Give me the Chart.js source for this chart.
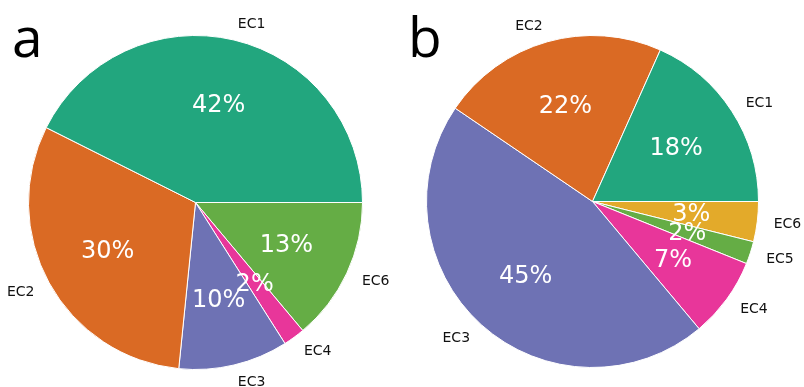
<!DOCTYPE html>
<html>
<head>
<meta charset="utf-8">
<script src="https://cdn.jsdelivr.net/npm/chart.js@4.4.1/dist/chart.umd.min.js"></script>
<style>
  html, body { margin: 0; padding: 0; background: #ffffff; }
  #wrap { position: relative; width: 804px; height: 387px; overflow: hidden; }
  canvas { position: absolute; top: 0; }
  #pieA { left: 0; }
  #pieB { left: 402px; }
</style>
</head>
<body>
<div id="wrap">
  <canvas id="pieA" width="402" height="387"></canvas>
  <canvas id="pieB" width="402" height="387"></canvas>
</div>
<script>
// Enzyme class shares, panel a
const labelsA = ['EC1', 'EC2', 'EC3', 'EC4', 'EC6'];
const valuesA = [42.6, 30.8, 10.6, 2.1, 13.9];
const colorsA = ['#22a67e', '#da6a24', '#6e72b4', '#e8369a', '#65ad45'];

// Enzyme class shares, panel b
const labelsB = ['EC1', 'EC2', 'EC3', 'EC4', 'EC5', 'EC6'];
const valuesB = [18.3, 22.2, 45.6, 7.8, 2.2, 3.9];
const colorsB = ['#22a67e', '#da6a24', '#6e72b4', '#e8369a', '#65ad45', '#e3aa2a'];

// Wedges run counter-clockwise from 3 o'clock; Chart.js draws clockwise,
// so the series are fed in reverse order starting at 90 degrees.
function rev(arr) { return arr.slice().reverse(); }

const pieLabels = {
  id: 'pieLabels',
  afterDatasetsDraw(chart, args, opts) {
    const ctx = chart.ctx;
    const meta = chart.getDatasetMeta(0);
    const data = chart.data.datasets[0].data;
    const names = chart.data.labels;
    const total = data.reduce((s, v) => s + v, 0);
    ctx.save();
    // category names outside the pie
    ctx.font = '14px "DejaVu Sans"';
    ctx.fillStyle = '#111111';
    ctx.textBaseline = 'middle';
    meta.data.forEach((arc, i) => {
      const p = arc.getProps(['x', 'y', 'startAngle', 'endAngle', 'outerRadius'], true);
      const mid = (p.startAngle + p.endAngle) / 2;
      const r = p.outerRadius * 1.1;
      const x = p.x + r * Math.cos(mid);
      const y = p.y + r * Math.sin(mid);
      ctx.textAlign = Math.cos(mid) > 0 ? 'left' : 'right';
      ctx.fillText(names[i], x, y + 1);
    });
    // percentage inside each wedge
    ctx.font = '24px "DejaVu Sans"';
    ctx.fillStyle = '#ffffff';
    ctx.textAlign = 'center';
    meta.data.forEach((arc, i) => {
      const p = arc.getProps(['x', 'y', 'startAngle', 'endAngle', 'outerRadius'], true);
      const mid = (p.startAngle + p.endAngle) / 2;
      const r = p.outerRadius * 0.6;
      const x = p.x + r * Math.cos(mid);
      const y = p.y + r * Math.sin(mid);
      const pct = Math.floor(data[i] * 100 / total);
      ctx.fillText(pct + '%', x, y + 1);
    });
    // panel letter
    ctx.font = '55px "Open Sans"';
    ctx.fillStyle = '#000000';
    ctx.textAlign = 'left';
    ctx.textBaseline = 'alphabetic';
    ctx.fillText(opts.panel, opts.panelX, 57);
    ctx.restore();
  }
};

function makePie(id, labels, values, colors, padding, panel, panelX) {
  return new Chart(document.getElementById(id), {
    type: 'pie',
    data: {
      labels: rev(labels),
      datasets: [{
        data: rev(values),
        backgroundColor: rev(colors),
        borderColor: '#ffffff',
        borderWidth: 1
      }]
    },
    options: {
      responsive: false,
      animation: false,
      rotation: 90,
      layout: { padding: padding },
      plugins: {
        legend: { display: false },
        tooltip: { enabled: false },
        pieLabels: { panel: panel, panelX: panelX }
      }
    },
    plugins: [pieLabels]
  });
}

makePie('pieA', labelsA, valuesA, colorsA, { left: 28, right: 39, top: 35, bottom: 17 }, 'a', 12);
makePie('pieB', labelsB, valuesB, colorsB, { left: 24, right: 45, top: 35, bottom: 19 }, 'b', 6);
</script>
</body>
</html>
